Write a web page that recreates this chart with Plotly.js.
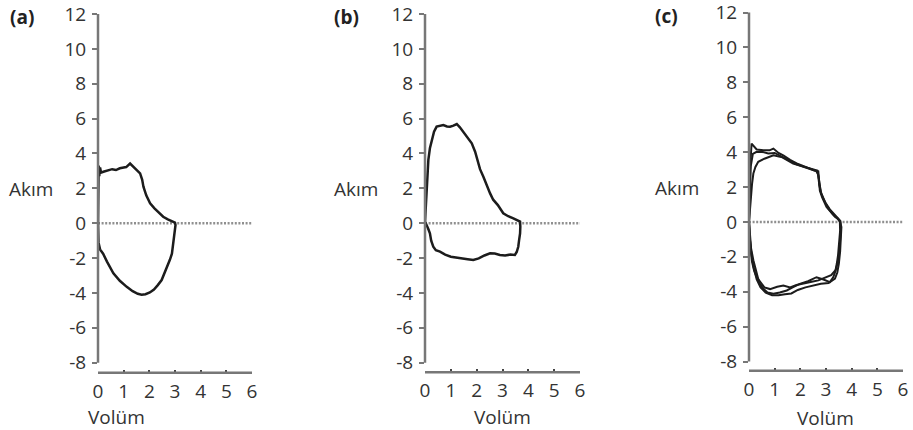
<!DOCTYPE html>
<html>
<head>
<meta charset="utf-8">
<script src="https://cdn.plot.ly/plotly-3.0.1.min.js"></script>
<style>
  html, body { margin: 0; padding: 0; background: #ffffff; }
  #chart { width: 913px; height: 430px; }
</style>
</head>
<body>
<div id="chart"></div>
<script>
// Flow–volume loops: (a), (b), (c)
const panelLabels = ['(a)', '(b)', '(c)'];
const xTitle = 'Volüm';
const yTitle = 'Akım';

const xTickVals = [0, 1, 2, 3, 4, 5, 6];
const xTickLabels = ['0', '1', '2', '3', '4', '5', '6'];
const yTickVals = [-8, -6, -4, -2, 0, 2, 4, 6, 8, 10, 12];
const yTickLabels = ['-8', '-6', '-4', '-2', '0', '2', '4', '6', '8', '10', '12'];

// (a) loop
const loopAX = [0, 0, 0.02, 0.03, 0.05, 0.08, 0.12, 0.21, 0.4, 0.55, 0.7, 0.85, 1.0, 1.1, 1.25, 1.38, 1.52, 1.64, 1.72, 1.77, 1.88, 2.03, 2.2, 2.38, 2.54, 2.72, 2.87, 3.0,
                3.02, 2.98, 2.94, 2.88, 2.8, 2.7, 2.6, 2.48, 2.33, 2.18, 2.02, 1.85, 1.7, 1.55, 1.35, 1.12, 0.85, 0.6, 0.35, 0.2, 0.08, 0.02, 0];
const loopAY = [0, 1.2, 2.6, 3.3, 2.7, 3.2, 2.9, 2.95, 3.05, 3.1, 3.05, 3.15, 3.2, 3.22, 3.42, 3.25, 3.05, 2.86, 2.5, 2.1, 1.6, 1.14, 0.85, 0.6, 0.37, 0.22, 0.13, 0.03,
                -0.1, -0.6, -1.2, -1.75, -2.1, -2.5, -2.85, -3.26, -3.55, -3.8, -3.97, -4.07, -4.1, -4.05, -3.9, -3.65, -3.3, -2.87, -2.2, -1.75, -1.5, -1.1, 0];

// (b) loop
const loopBX = [0, 0.02, 0.04, 0.08, 0.13, 0.19, 0.26, 0.35, 0.45, 0.58, 0.71, 0.85, 0.97, 1.1, 1.23, 1.35, 1.48, 1.65, 1.81, 1.94, 2.03, 2.13, 2.26, 2.39, 2.52, 2.64, 2.82, 3.03, 3.22, 3.42, 3.56, 3.68,
                3.69, 3.68, 3.64, 3.61, 3.55, 3.48, 3.3, 3.1, 2.9, 2.7, 2.52, 2.3, 2.08, 1.87, 1.65, 1.43, 1.23, 1.0, 0.78, 0.58, 0.42, 0.32, 0.24, 0.19, 0.12, 0.06, 0];
const loopBY = [0.1, 0.7, 1.33, 2.6, 3.63, 4.3, 4.77, 5.25, 5.54, 5.6, 5.63, 5.55, 5.54, 5.6, 5.69, 5.5, 5.25, 4.95, 4.58, 4.1, 3.63, 3.1, 2.67, 2.15, 1.71, 1.35, 1.04, 0.57, 0.4, 0.28, 0.16, 0.09,
                -0.2, -0.58, -1.0, -1.35, -1.65, -1.82, -1.8, -1.85, -1.82, -1.74, -1.73, -1.85, -2.02, -2.11, -2.06, -2.02, -1.97, -1.92, -1.8, -1.63, -1.55, -1.35, -1.0, -0.58, -0.3, -0.05, 0.1];

// (c) three superimposed loops
const loopC1X = [0, 0.02, 0.04, 0.1, 0.3, 0.56, 0.8, 0.95, 1.15, 1.35, 1.6, 1.86, 2.1, 2.37, 2.55, 2.7, 2.72, 2.76, 2.85, 3.02, 3.2, 3.35, 3.47, 3.54,
                 3.55, 3.52, 3.47, 3.42, 3.36, 3.28, 3.15, 2.9, 2.63, 2.3, 1.98, 1.7, 1.47, 1.2, 0.95, 0.72, 0.56, 0.4, 0.3, 0.17, 0.08, 0.03, 0];
const loopC1Y = [0, 1.5, 3.0, 4.49, 4.15, 4.1, 4.1, 4.2, 3.95, 3.8, 3.55, 3.35, 3.2, 3.04, 2.95, 2.9, 2.5, 1.8, 1.4, 0.85, 0.55, 0.3, 0.18, 0.0,
                 -0.5, -1.2, -1.9, -2.4, -2.85, -3.17, -3.45, -3.3, -3.17, -3.4, -3.55, -3.75, -3.93, -4.05, -4.12, -4.05, -3.83, -3.5, -2.97, -2.2, -1.5, -0.8, 0];
const loopC2X = [0, 0.05, 0.12, 0.17, 0.25, 0.36, 0.6, 0.95, 1.3, 1.72, 2.1, 2.44, 2.66, 2.7, 2.74, 2.82, 2.98, 3.15, 3.32, 3.47, 3.56,
                 3.58, 3.56, 3.52, 3.46, 3.38, 3.2, 2.95, 2.7, 2.4, 2.1, 1.85, 1.6, 1.34, 1.1, 0.82, 0.6, 0.43, 0.3, 0.2, 0.12, 0.06, 0.02, 0];
const loopC2Y = [0, 1.2, 2.2, 2.77, 3.15, 3.44, 3.62, 3.82, 3.7, 3.34, 3.2, 3.05, 2.95, 2.6, 2.1, 1.6, 1.1, 0.72, 0.42, 0.2, 0.05,
                 -0.4, -1.0, -1.7, -2.3, -2.75, -3.05, -3.2, -3.35, -3.45, -3.55, -3.62, -3.75, -3.64, -3.72, -3.85, -3.75, -3.4, -3.17, -2.8, -2.3, -1.6, -0.8, 0];
const loopC3X = [0, 0.03, 0.07, 0.15, 0.28, 0.5, 0.75, 1.0, 1.25, 1.55, 1.85, 2.15, 2.45, 2.62, 2.7, 2.74, 2.8, 2.92, 3.08, 3.26, 3.42, 3.55,
                 3.6, 3.58, 3.55, 3.5, 3.44, 3.35, 3.1, 2.8, 2.5, 2.2, 1.9, 1.65, 1.4, 1.15, 0.9, 0.65, 0.45, 0.3, 0.18, 0.09, 0.03, 0];
const loopC3Y = [0, 1.8, 3.2, 3.9, 4.0, 4.02, 3.92, 3.95, 3.75, 3.5, 3.3, 3.15, 3.0, 2.92, 2.7, 2.2, 1.7, 1.25, 0.8, 0.45, 0.2, 0.04,
                 -0.3, -1.0, -1.7, -2.4, -2.9, -3.25, -3.5, -3.55, -3.65, -3.75, -3.9, -4.1, -4.15, -4.2, -4.2, -4.05, -3.75, -3.3, -2.6, -1.8, -0.9, 0];

const loops = [
  { xs: [loopAX], ys: [loopAY] },
  { xs: [loopBX], ys: [loopBY] },
  { xs: [loopC1X, loopC2X, loopC3X], ys: [loopC1Y, loopC2Y, loopC3Y] }
];

const FONT = 'Open Sans, Noto Sans, sans-serif';
const TEXT = '#333333';
const AXIS = '#777777';

// Panel geometry (pixels): x-axis ends, rows of y=12 and y=-8, row of the x-axis line
const W = 913, H = 430;
const panels = [
  { left: 98, right: 252, top: 14, low: 362.7, base: 372.7, lab: 8, akim: 7, vol: 117, labY: 17, akimY: 189, volY: 417 },
  { left: 425, right: 580, top: 14, low: 362.7, base: 372.3, lab: 332, akim: 332, vol: 502, labY: 17, akimY: 189, volY: 417 },
  { left: 749, right: 903, top: 12.5, low: 361.5, base: 370.7, lab: 653, akim: 653, vol: 825, labY: 16, akimY: 188, volY: 418 }
];

const traces = [];
const layout = {
  width: W, height: H,
  margin: { l: 0, r: 0, t: 0, b: 0 },
  paper_bgcolor: '#ffffff', plot_bgcolor: '#ffffff',
  showlegend: false,
  font: { family: FONT, color: TEXT },
  shapes: [], annotations: []
};

panels.forEach((p, i) => {
  const n = i + 1;
  const suf = n === 1 ? '' : String(n);
  const xa = 'x' + suf, ya = 'y' + suf;

  const yMin = yTickVals[0], yMax = yTickVals[yTickVals.length - 1];
  const pxPerUnit = (p.low - p.top) / (yMax - yMin);
  const yBottom = yMin - (p.base - p.low) / pxPerUnit;   // x axis sits a little below -8
  const yDom = [1 - p.base / H, 1 - p.top / H];
  const toPaperY = v => yDom[0] + (v - yBottom) / (yMax - yBottom) * (yDom[1] - yDom[0]);
  const xDom = [p.left / W, p.right / W];

  layout['xaxis' + suf] = {
    domain: xDom, range: [xTickVals[0], xTickVals[xTickVals.length - 1]], anchor: ya,
    tickmode: 'array', tickvals: xTickVals, ticktext: xTickLabels,
    ticks: 'inside', ticklen: 3, tickwidth: 2, tickcolor: '#444',
    ticklabelstandoff: 5, ticklabeloverflow: 'allow',
    showline: false,
    showgrid: false, zeroline: false, fixedrange: true,
    tickfont: { family: FONT, size: 19, color: TEXT }
  };
  layout['yaxis' + suf] = {
    domain: yDom, range: [yBottom, yMax], anchor: xa,
    tickmode: 'array', tickvals: yTickVals, ticktext: yTickLabels,
    ticks: 'outside', ticklen: 5, tickwidth: 2, tickcolor: AXIS,
    ticklabelstandoff: 2, ticklabeloverflow: 'allow',
    showline: false,
    showgrid: false, zeroline: false, fixedrange: true,
    tickfont: { family: FONT, size: 19, color: TEXT }
  };

  // vertical axis line running from -8 to 12 only
  layout.shapes.push({
    type: 'line', xref: 'paper', yref: 'paper',
    x0: xDom[0], x1: xDom[0], y0: toPaperY(yMin), y1: toPaperY(yMax),
    line: { color: AXIS, width: 2.5 }, layer: 'above'
  });
  // horizontal axis line along the bottom of the panel
  layout.shapes.push({
    type: 'line', xref: 'paper', yref: 'paper',
    x0: xDom[0], x1: xDom[1], y0: yDom[0], y1: yDom[0],
    line: { color: AXIS, width: 2.5 }, layer: 'above'
  });

  // dotted zero-flow line
  layout.shapes.push({
    type: 'line', xref: xa, yref: ya, x0: xTickVals[0], x1: xTickVals[xTickVals.length - 1], y0: 0, y1: 0,
    line: { color: '#8f8f8f', width: 2.5, dash: '2px,1.6px' }, layer: 'below'
  });

  loops[i].xs.forEach((xs, k) => {
    traces.push({
      type: 'scatter', mode: 'lines', x: xs, y: loops[i].ys[k],
      xaxis: xa, yaxis: ya, hoverinfo: 'skip',
      line: { color: '#1c1c1c', width: i === 2 ? 2 : 2.5, shape: 'linear' }
    });
  });

  layout.annotations.push(
    { text: '<b>' + panelLabels[i] + '</b>', xref: 'paper', yref: 'paper',
      x: p.lab / W, y: 1 - p.labY / H, xanchor: 'left', yanchor: 'middle', showarrow: false,
      font: { family: FONT, size: 19, color: '#222' } },
    { text: yTitle, xref: 'paper', yref: 'paper',
      x: p.akim / W, y: 1 - p.akimY / H, xanchor: 'left', yanchor: 'middle', showarrow: false,
      font: { family: FONT, size: 19, color: TEXT } },
    { text: xTitle, xref: 'paper', yref: 'paper',
      x: p.vol / W, y: 1 - p.volY / H, xanchor: 'center', yanchor: 'middle', showarrow: false,
      font: { family: FONT, size: 19, color: TEXT } }
  );
});

Plotly.newPlot('chart', traces, layout, { staticPlot: true, displayModeBar: false });
</script>
</body>
</html>
